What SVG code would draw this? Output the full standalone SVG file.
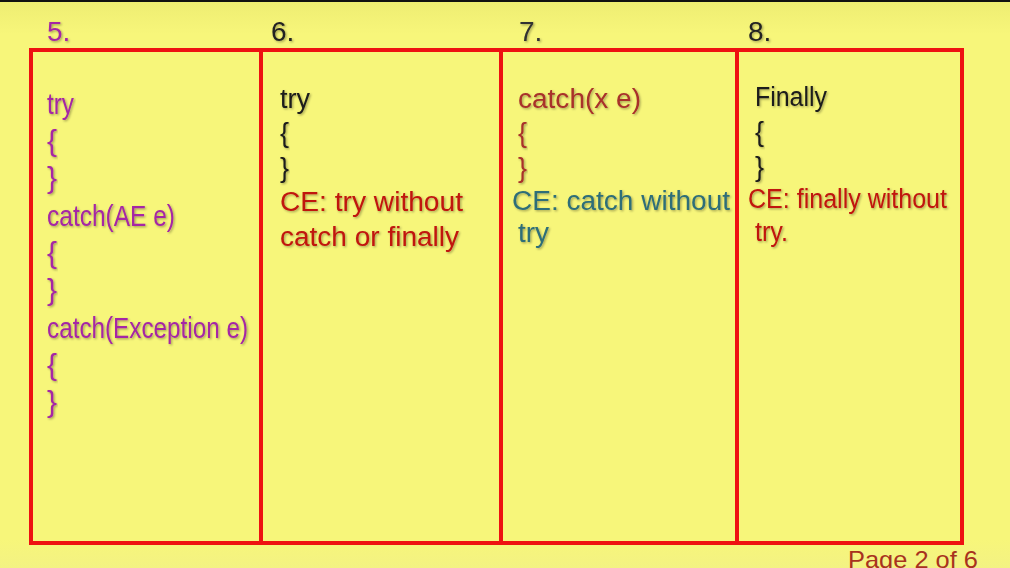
<svg xmlns="http://www.w3.org/2000/svg" width="1010" height="568" viewBox="0 0 1010 568">
<defs>
<filter id="sh" x="-5%" y="-20%" width="110%" height="140%">
<feDropShadow dx="1.2" dy="1.2" stdDeviation="0.8" flood-color="#000" flood-opacity="0.35"/>
</filter>
<linearGradient id="bg" x1="0" y1="0" x2="0" y2="1">
<stop offset="0" stop-color="#eeed72"/>
<stop offset="0.06" stop-color="#f7f67a"/>
<stop offset="0.95" stop-color="#f7f67a"/>
<stop offset="1" stop-color="#f3f283"/>
</linearGradient>
</defs>
<style>
text{font-family:"Liberation Sans",Arial,sans-serif;filter:url(#sh)}
.num{font-size:28px;fill:#222}
.p5{font-size:30px;fill:#a526a5}
.t{font-size:27px}
.blk{fill:#1a1a1a}
.red{fill:#c0140f}
.brn{fill:#a8302a}
.teal{fill:#2f6e78}
.box{fill:none;stroke:#ee1111;stroke-width:4}
</style>
<rect x="0" y="0" width="1010" height="568" fill="url(#bg)"/>
<rect x="0" y="0" width="1010" height="2" fill="#111"/>
<g id="frame">
<rect class="box" x="31" y="50" width="931" height="493"/>
<line class="box" x1="261" y1="50" x2="261" y2="543"/>
<line class="box" x1="501" y1="50" x2="501" y2="543"/>
<line class="box" x1="737" y1="50" x2="737" y2="543"/>
</g>
<g id="col5">
<text class="num" x="47" y="41" style="fill:#a526a5">5.</text>
<text class="p5" x="47" y="114" textLength="27" lengthAdjust="spacingAndGlyphs">try</text>
<text class="p5" x="47" y="151">{</text>
<text class="p5" x="47" y="188">}</text>
<text class="p5" x="47" y="226" textLength="128" lengthAdjust="spacingAndGlyphs">catch(AE e)</text>
<text class="p5" x="47" y="263">{</text>
<text class="p5" x="47" y="300">}</text>
<text class="p5" x="47" y="338" textLength="201" lengthAdjust="spacingAndGlyphs">catch(Exception e)</text>
<text class="p5" x="47" y="375">{</text>
<text class="p5" x="47" y="412">}</text>
</g>
<g id="col6">
<text class="num" x="271" y="41">6.</text>
<text class="t blk" x="280" y="108" textLength="30" lengthAdjust="spacingAndGlyphs">try</text>
<text class="t blk" x="280" y="142">{</text>
<text class="t blk" x="280" y="177">}</text>
<text class="t red" x="280" y="211" textLength="183" lengthAdjust="spacingAndGlyphs">CE: try without</text>
<text class="t red" x="280" y="246" textLength="179" lengthAdjust="spacingAndGlyphs">catch or finally</text>
</g>
<g id="col7">
<text class="num" x="519" y="41" style="fill:#333">7.</text>
<text class="t brn" x="518" y="108" textLength="123" lengthAdjust="spacingAndGlyphs">catch(x e)</text>
<text class="t brn" x="518" y="142">{</text>
<text class="t brn" x="518" y="177">}</text>
<text class="t teal" x="512" y="210" textLength="218" lengthAdjust="spacingAndGlyphs">CE: catch without</text>
<text class="t teal" x="518" y="242" textLength="31" lengthAdjust="spacingAndGlyphs">try</text>
</g>
<g id="col8">
<text class="num" x="748" y="41">8.</text>
<text class="t blk" x="755" y="106" textLength="72" lengthAdjust="spacingAndGlyphs">Finally</text>
<text class="t blk" x="755" y="141">{</text>
<text class="t blk" x="755" y="176">}</text>
<text class="t red" x="748" y="208" textLength="199" lengthAdjust="spacingAndGlyphs">CE: finally without</text>
<text class="t red" x="755" y="241" textLength="33" lengthAdjust="spacingAndGlyphs">try.</text>
</g>
<g id="footer">
<text x="848" y="568" style="font-size:24px;fill:#a8321e;filter:none" textLength="130" lengthAdjust="spacingAndGlyphs">Page 2 of 6</text>
</g>
</svg>
